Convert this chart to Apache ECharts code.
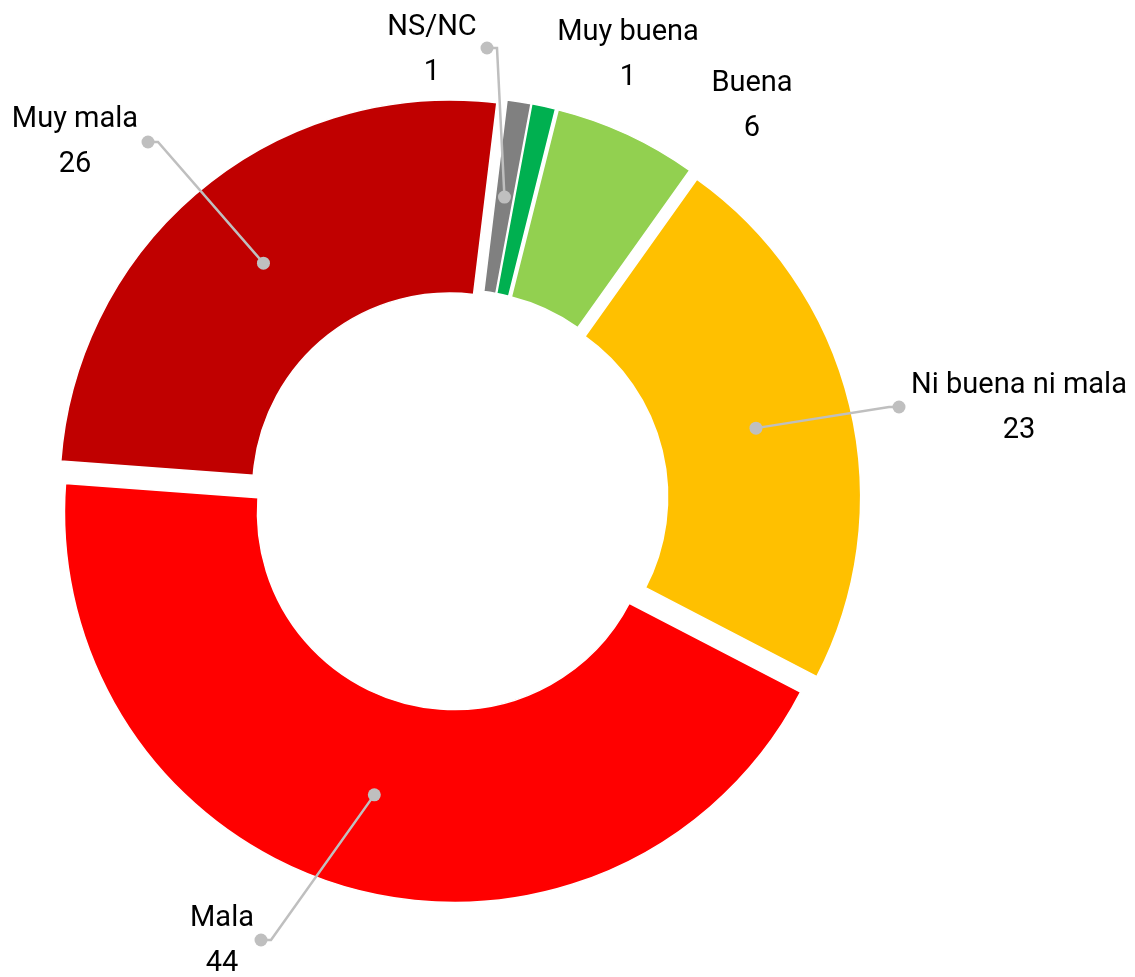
<!DOCTYPE html>
<html>
<head>
<meta charset="utf-8">
<script src="https://cdn.jsdelivr.net/npm/echarts@6/dist/echarts.min.js"></script>
<style>
html, body { margin: 0; padding: 0; background: #fff; }
#chart-container { width: 1135px; height: 977px; }
</style>
</head>
<body>
<div id="chart-container"></div>
<script>
var categories = ['Muy buena', 'Buena', 'Ni buena ni mala', 'Mala', 'Muy mala', 'NS/NC'];
var values = [1, 6, 23, 44, 26, 1];
var colors = ['#00b050', '#92d050', '#ffc000', '#ff0000', '#c00000', '#808080'];

// label block centres and the outer end of each leader line (null = no leader)
var labelSpots = [[628, 55], [752, 106], [1019, 408], [222, 941], [75, 142], [432, 50]];
var leaderEnds = [null, null, [899, 407], [261, 940], [148, 142], [487, 48]];

var explode = 13;
var dom = document.getElementById('chart-container');
var myChart = echarts.init(dom);

var option = {
  animation: false,
  backgroundColor: '#fff',
  series: [{
    type: 'pie',
    center: [458, 500],
    radius: [197, 390],
    startAngle: 79.5,
    clockwise: true,
    selectedMode: 'multiple',
    selectedOffset: explode,
    itemStyle: { borderColor: '#fff', borderWidth: 1.5 },
    select: { itemStyle: { borderColor: '#fff', borderWidth: 1.5 } },
    emphasis: { disabled: true },
    label: { show: false },
    labelLine: { show: false },
    data: categories.map(function (name, i) {
      return { name: name, value: values[i], selected: true, itemStyle: { color: colors[i] } };
    })
  }]
};
myChart.setOption(option);

// callout labels + leader lines from mid-ring of the exploded slice
function drawCallouts() {
  var data = myChart.getModel().getSeriesByIndex(0).getData();
  var els = [];
  categories.forEach(function (name, i) {
    var spot = labelSpots[i];
    els.push({
      type: 'text', z: 102,
      style: {
        text: name + '\n' + data.get('value', i),
        x: spot[0], y: spot[1],
        align: 'center', verticalAlign: 'middle',
        fontFamily: 'Roboto', fontSize: 29, lineHeight: 45,
        fill: '#000'
      }
    });
    var end = leaderEnds[i];
    if (!end) return;
    var l = data.getItemLayout(i);
    var mid = (l.startAngle + l.endAngle) / 2;
    var rr = (l.r0 + l.r) / 2;
    var px = l.cx + Math.cos(mid) * (rr + explode);
    var py = l.cy + Math.sin(mid) * (rr + explode);
    var kx = end[0] + (px > end[0] ? 10 : -10);
    els.push({ type: 'polyline', z: 100, shape: { points: [end, [kx, end[1]], [px, py]] }, style: { stroke: '#bfbfbf', lineWidth: 2.5, fill: null } });
    els.push({ type: 'circle', z: 101, shape: { cx: px, cy: py, r: 6.5 }, style: { fill: '#bfbfbf' } });
    els.push({ type: 'circle', z: 101, shape: { cx: end[0], cy: end[1], r: 6.5 }, style: { fill: '#bfbfbf' } });
  });
  myChart.setOption({ graphic: els });
}
drawCallouts();
</script>
</body>
</html>
